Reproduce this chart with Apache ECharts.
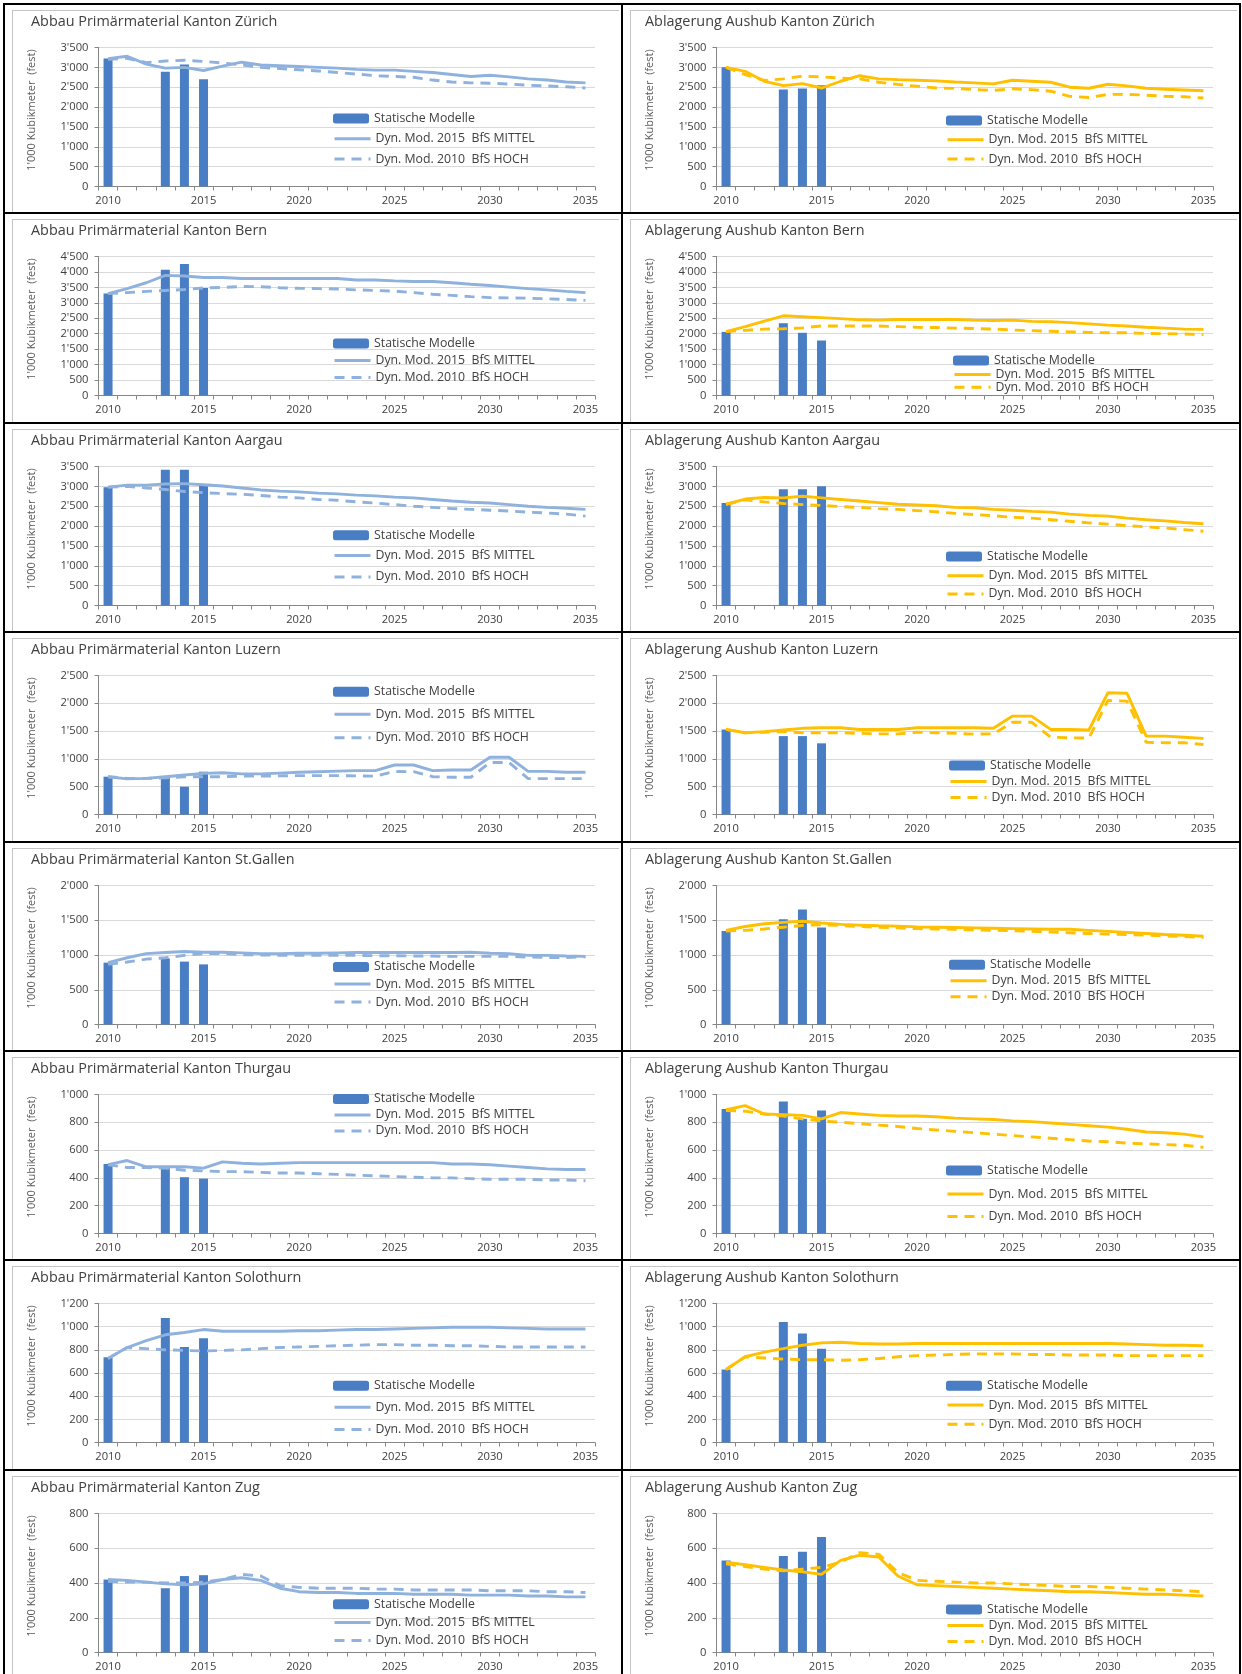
<!DOCTYPE html>
<html><head><meta charset="utf-8">
<script src="https://cdn.jsdelivr.net/npm/echarts@6/dist/echarts.min.js"></script>
<style>
html,body{margin:0;padding:0;background:#fff;width:1242px;height:1674px;overflow:hidden;}
.box{position:absolute;border:2px solid #000;box-sizing:border-box;}
.inner{position:absolute;border-left:1px solid #c4c4c4;border-top:1px solid #c4c4c4;box-sizing:border-box;}
.chart{position:absolute;}
</style></head><body>
<script>
// ---------------- DATA ----------------
const years = ['2010','2011','2012','2013','2014','2015','2016','2017','2018','2019','2020','2021','2022','2023','2024','2025','2026','2027','2028','2029','2030','2031','2032','2033','2034','2035'];
const statYears = ['2010','2013','2014','2015'];
const seriesNames = ['Statische Modelle','Dyn. Mod. 2015  BfS MITTEL','Dyn. Mod. 2010  BfS HOCH'];
const yTickMax = [3500,3500,4500,4500,3500,3500,2500,2500,2000,2000,1000,1000,1200,1200,800,800];
const yTickStep = [500,500,500,500,500,500,500,500,500,500,200,200,200,200,200,200];
const titles = [
 'Abbau Primärmaterial Kanton Zürich','Ablagerung Aushub Kanton Zürich',
 'Abbau Primärmaterial Kanton Bern','Ablagerung Aushub Kanton Bern',
 'Abbau Primärmaterial Kanton Aargau','Ablagerung Aushub Kanton Aargau',
 'Abbau Primärmaterial Kanton Luzern','Ablagerung Aushub Kanton Luzern',
 'Abbau Primärmaterial Kanton St.Gallen','Ablagerung Aushub Kanton St.Gallen',
 'Abbau Primärmaterial Kanton Thurgau','Ablagerung Aushub Kanton Thurgau',
 'Abbau Primärmaterial Kanton Solothurn','Ablagerung Aushub Kanton Solothurn',
 'Abbau Primärmaterial Kanton Zug','Ablagerung Aushub Kanton Zug'];

const abbauZHStat = [3220,2890,3075,2700];
const abbauZHMittel = [3220,3280,3080,2980,3000,2920,3030,3130,3060,3040,3020,3000,2980,2950,2930,2930,2900,2870,2820,2770,2800,2760,2710,2680,2630,2610];
const abbauZHHoch = [3200,3230,3120,3160,3180,3150,3110,3060,3000,2970,2940,2910,2870,2830,2790,2770,2750,2680,2630,2610,2600,2580,2550,2530,2510,2480];

const ablZHStat = [3000,2440,2470,2550];
const ablZHMittel = [3000,2900,2650,2540,2590,2480,2650,2790,2710,2690,2675,2660,2630,2610,2585,2675,2650,2625,2500,2475,2575,2535,2475,2450,2430,2410];
const ablZHHoch = [3000,2820,2670,2710,2780,2760,2730,2710,2625,2570,2525,2480,2470,2440,2420,2460,2440,2400,2270,2240,2320,2320,2300,2270,2260,2230];

const abbauBEStat = [3300,4070,4260,3480];
const abbauBEMittel = [3300,3460,3650,3890,3870,3820,3820,3790,3790,3790,3790,3790,3790,3740,3740,3710,3690,3690,3650,3600,3560,3510,3460,3420,3370,3330];
const abbauBEHoch = [3300,3330,3370,3400,3430,3480,3500,3530,3520,3490,3470,3460,3450,3420,3400,3380,3330,3280,3240,3200,3170,3160,3150,3130,3110,3080];

const ablBEStat = [2060,2340,2030,1780];
const ablBEMittel = [2070,2230,2410,2580,2550,2520,2490,2450,2440,2460,2460,2460,2460,2440,2430,2440,2400,2390,2360,2320,2280,2250,2210,2180,2150,2140];
const ablBEHoch = [2070,2110,2150,2160,2190,2250,2250,2250,2250,2230,2210,2200,2180,2170,2150,2120,2100,2080,2060,2040,2030,2030,2010,2000,1990,1970];

const abbauAGStat = [2980,3420,3420,3020];
const abbauAGMittel = [2980,3030,3030,3060,3070,3040,3010,2960,2910,2880,2860,2830,2810,2780,2760,2730,2710,2670,2630,2600,2580,2540,2500,2470,2450,2420];
const abbauAGHoch = [2980,3000,2960,2920,2870,2840,2820,2800,2770,2730,2710,2670,2650,2610,2580,2540,2500,2470,2440,2420,2400,2380,2350,2330,2300,2250];

const ablAGStat = [2580,2930,2930,3000];
const ablAGMittel = [2550,2680,2720,2710,2750,2710,2670,2630,2590,2550,2530,2510,2470,2460,2420,2400,2370,2350,2300,2270,2250,2200,2160,2130,2090,2060];
const ablAGHoch = [2550,2660,2610,2570,2540,2520,2490,2470,2440,2420,2390,2360,2320,2290,2260,2220,2200,2160,2120,2080,2050,2010,1980,1950,1910,1870];

const abbauLUStat = [680,680,500,770];
const abbauLUMittel = [680,640,650,680,710,740,750,730,730,745,760,770,780,790,790,890,890,790,800,800,1030,1030,775,775,760,760];
const abbauLUHoch = [680,650,650,660,680,680,680,690,690,695,700,700,700,695,690,775,770,680,670,670,935,935,645,645,645,645];

const ablLUStat = [1530,1410,1410,1280];
const ablLUMittel = [1530,1470,1490,1520,1550,1560,1560,1530,1530,1530,1560,1560,1560,1560,1550,1770,1770,1530,1530,1520,2190,2180,1410,1410,1390,1370];
const ablLUHoch = [1530,1470,1480,1490,1470,1470,1470,1460,1450,1450,1480,1470,1460,1445,1450,1660,1660,1390,1380,1375,2050,2040,1300,1290,1290,1260];

const abbauSGStat = [890,950,905,865];
const abbauSGMittel = [890,960,1020,1035,1050,1040,1040,1030,1020,1020,1025,1025,1030,1035,1035,1035,1035,1035,1035,1040,1025,1020,995,995,985,980];
const abbauSGHoch = [865,900,940,960,995,1020,1020,1005,1000,995,995,995,995,995,990,990,985,985,980,980,980,980,970,965,965,975];

const ablSGStat = [1345,1515,1655,1395];
const ablSGMittel = [1355,1410,1450,1470,1485,1460,1440,1430,1420,1415,1405,1400,1395,1390,1385,1380,1375,1370,1370,1355,1340,1325,1310,1295,1285,1270];
const ablSGHoch = [1345,1355,1375,1400,1425,1435,1425,1410,1400,1390,1380,1375,1370,1360,1355,1350,1340,1330,1320,1310,1300,1295,1285,1275,1265,1255];

const abbauTGStat = [500,470,405,395];
const abbauTGMittel = [495,525,480,480,480,470,515,505,500,505,510,510,510,510,510,510,510,510,500,500,495,485,475,465,460,460];
const abbauTGHoch = [495,475,475,470,455,450,445,445,440,435,435,430,425,420,415,410,405,400,400,395,390,390,390,385,385,380];

const ablTGStat = [895,950,825,885];
const ablTGMittel = [890,920,860,855,850,825,870,860,850,845,845,840,830,825,820,810,805,795,785,775,765,750,730,725,715,695];
const ablTGHoch = [885,880,860,845,825,810,800,790,780,770,755,745,735,725,715,705,695,685,675,665,660,650,645,640,635,620];

const abbauSOStat = [735,1075,825,900];
const abbauSOMittel = [725,820,880,930,950,975,960,960,960,960,965,965,970,975,975,980,985,990,995,995,995,990,985,980,980,980];
const abbauSOHoch = [725,820,810,800,795,790,795,800,810,820,825,830,835,840,845,845,840,840,835,835,830,825,825,825,825,825];

const ablSOStat = [630,1040,940,810];
const ablSOMittel = [630,740,780,810,840,860,865,855,850,850,855,855,855,855,855,855,855,855,855,855,855,850,845,840,840,835];
const ablSOHoch = [630,740,730,720,715,715,710,715,725,740,750,755,760,765,765,765,760,760,755,755,755,750,750,750,750,750];

const abbauZGStat = [420,370,440,445];
const abbauZGMittel = [420,415,405,395,390,395,420,430,415,370,350,345,345,340,340,340,335,335,335,330,330,330,325,325,320,320];
const abbauZGHoch = [410,405,405,400,400,405,420,450,440,385,375,370,370,370,365,365,360,360,360,360,355,355,355,350,350,345];

const ablZGStat = [530,555,580,665];
const ablZGMittel = [520,505,490,475,465,450,530,560,550,440,390,385,380,375,370,365,360,355,350,350,345,340,335,335,330,325];
const ablZGHoch = [510,495,480,470,480,490,520,575,565,460,415,410,405,400,400,395,390,385,380,380,375,370,365,360,355,350];

const panelData = [
 [abbauZHStat,abbauZHMittel,abbauZHHoch],[ablZHStat,ablZHMittel,ablZHHoch],
 [abbauBEStat,abbauBEMittel,abbauBEHoch],[ablBEStat,ablBEMittel,ablBEHoch],
 [abbauAGStat,abbauAGMittel,abbauAGHoch],[ablAGStat,ablAGMittel,ablAGHoch],
 [abbauLUStat,abbauLUMittel,abbauLUHoch],[ablLUStat,ablLUMittel,ablLUHoch],
 [abbauSGStat,abbauSGMittel,abbauSGHoch],[ablSGStat,ablSGMittel,ablSGHoch],
 [abbauTGStat,abbauTGMittel,abbauTGHoch],[ablTGStat,ablTGMittel,ablTGHoch],
 [abbauSOStat,abbauSOMittel,abbauSOHoch],[ablSOStat,ablSOMittel,ablSOHoch],
 [abbauZGStat,abbauZGMittel,abbauZGHoch],[ablZGStat,ablZGMittel,ablZGHoch]];

// ---------------- LAYOUT (legend placement per panel) ----------------
const legendLeft = [328,323, 328,330, 328,323, 328,326, 328,326, 328,323, 328,323, 328,323];
const legendCenters = [
 [112.5,132.8,153.1],[114.6,133.8,153.1],
 [128.4,145.5,162.6],[145.5,159.4,172.2],
 [110.2,130.5,151.9],[131.6,150.8,168.9],
 [57.8,80.2,103.7],[131.5,147.5,163.5],
 [122.9,140,158.1],[120.7,136.8,152.8],
 [45.9,61.9,77.9],[117.5,141,163.4],
 [123.8,145.2,167.6],[123.8,143,162.2],
 [132.2,150.4,168.6],[137.6,153.6,169.6]];

const FONT = '"Open Sans", "Liberation Sans", sans-serif';
const BAR = '#4a7ec4';
const LINE_L = '#8fb1dd';
const LINE_R = '#ffc000';
const rowH = 209.4;

function fmt(v){
  if (v >= 1000) { const r = v % 1000; return Math.floor(v/1000) + "'" + String(r).padStart(3,'0'); }
  return String(v);
}

for (let p = 0; p < 16; p++) {
  const col = p % 2, row = Math.floor(p / 2);
  const bx = col === 0 ? 3 : 621;
  const by = 3 + row * rowH;
  const box = document.createElement('div');
  box.className = 'box';
  box.style.left = bx + 'px'; box.style.top = by + 'px';
  box.style.width = '620px'; box.style.height = (rowH + 2) + 'px';
  document.body.appendChild(box);

  const X0 = bx + 2, Y0 = by + 2;
  const inner = document.createElement('div');
  inner.className = 'inner';
  inner.style.left = (X0 + 7) + 'px'; inner.style.top = (Y0 + 5) + 'px';
  inner.style.width = (616 - 9) + 'px'; inner.style.height = (rowH - 5 - 2) + 'px';
  document.body.appendChild(inner);

  const el = document.createElement('div');
  el.className = 'chart';
  el.style.left = X0 + 'px'; el.style.top = Y0 + 'px';
  el.style.width = '616px'; el.style.height = (rowH - 2) + 'px';
  document.body.appendChild(el);

  const [stat, mittel, hoch] = panelData[p];
  const barData = years.map(y => { const k = statYears.indexOf(y); return k >= 0 ? stat[k] : null; });
  const lineColor = col === 0 ? LINE_L : LINE_R;

  const legends = seriesNames.map((n, i) => {
    const lg = {
      data: [n], orient: 'vertical', left: legendLeft[p], top: legendCenters[p][i] - 6,
      padding: 0, itemWidth: 36, itemHeight: 10, itemGap: 0, selectedMode: false,
      textStyle: { fontSize: 12.3, color: '#404040', fontFamily: FONT, lineHeight: 14 }
    };
    if (i > 0) { lg.itemStyle = { opacity: 0 }; lg.lineStyle = { width: 3 }; }
    return lg;
  });

  const chart = echarts.init(el, null, { renderer: 'canvas' });
  chart.setOption({
    animation: false,
    title: { text: titles[p], left: col === 0 ? 26 : 22, top: 10, padding: 0,
      textStyle: { fontSize: 14.4, fontWeight: 'normal', color: '#404040', fontFamily: FONT } },
    grid: { left: 93.5, width: 496.5, top: 42.5, height: 139, outerBoundsMode: 'none' },
    legend: legends,
    xAxis: {
      type: 'category', data: years, boundaryGap: true,
      axisLine: { show: true, lineStyle: { color: '#868686', width: 1 } },
      axisTick: { show: true, interval: 0, length: 4, lineStyle: { color: '#868686' } },
      axisLabel: { interval: 4, margin: 9, fontSize: 11.2, color: '#404040', fontFamily: FONT },
      splitLine: { show: false }
    },
    yAxis: {
      type: 'value', min: 0, max: yTickMax[p], interval: yTickStep[p],
      name: "1'000 Kubikmeter  (fest)", nameLocation: 'middle', nameGap: 61, nameRotate: 90,
      nameTextStyle: { fontSize: 11, color: '#595959', fontFamily: FONT, padding: [0,0,0,14] },
      axisLine: { show: true, lineStyle: { color: '#868686', width: 1 } },
      axisTick: { show: true, length: 4, lineStyle: { color: '#868686' } },
      axisLabel: { margin: 10, fontSize: 11.2, color: '#404040', fontFamily: FONT, formatter: fmt },
      splitLine: { show: true, lineStyle: { color: '#d9d9d9', width: 1 } }
    },
    series: [
      { name: seriesNames[0], type: 'bar', data: barData, barWidth: 9, itemStyle: { color: BAR }, z: 2 },
      { name: seriesNames[1], type: 'line', data: mittel, symbol: 'none', showSymbol: false,
        lineStyle: { color: lineColor, width: 2.9 }, itemStyle: { color: lineColor }, z: 3 },
      { name: seriesNames[2], type: 'line', data: hoch, symbol: 'none', showSymbol: false,
        lineStyle: { color: lineColor, width: 2.9, type: [10, 7] }, itemStyle: { color: lineColor }, z: 3 }
    ]
  });
}
</script></body></html>
